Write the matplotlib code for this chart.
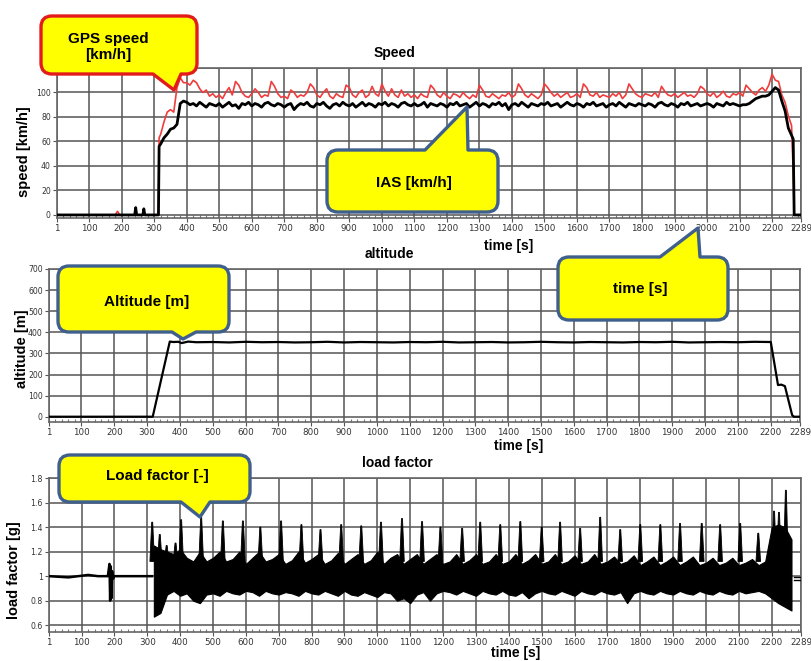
import numpy as np
import matplotlib
matplotlib.use("Agg")
import matplotlib.pyplot as plt
from matplotlib.path import Path
from matplotlib.patches import PathPatch
from matplotlib.ticker import MultipleLocator

W, H = 811, 661

# ---------------- data ----------------
# speed, sampled every 10 s from 320 s to 2260 s
t_speed = np.arange(320, 2270, 10)
ias = [58, 63, 66, 70, 71, 74, 91, 93,
       92, 90, 91, 89, 92, 90, 88, 91, 90, 89,
       91, 88, 90, 92, 89, 90, 87, 91, 90, 92,
       89, 91, 90, 88, 91, 92, 90, 89, 91, 90,
       88, 90, 91, 86, 89, 91, 90, 92, 89, 88,
       91, 90, 92, 89, 87, 90, 91, 89, 92, 90,
       89, 91, 88, 90, 92, 89, 91, 90, 88, 91,
       90, 92, 89, 91, 90, 88, 91, 92, 90, 89,
       91, 89, 90, 92, 88, 91, 90, 89, 91, 90,
       88, 91, 90, 92, 89, 90, 91, 88, 90, 92,
       89, 91, 90, 88, 91, 90, 92, 89, 91, 86,
       90, 91, 89, 92, 90, 88, 91, 90, 89, 91,
       90, 92, 89, 90, 91, 88, 90, 92, 90, 89,
       91, 90, 88, 91, 90, 92, 89, 90, 91, 88,
       90, 91, 89, 92, 90, 88, 91, 90, 89, 91,
       90, 89, 91, 90, 88, 91, 92, 90, 89, 91,
       90, 88, 91, 90, 92, 89, 90, 91, 89, 90,
       91, 90, 88, 91, 90, 89, 92, 90, 91, 90,
       89, 90, 90, 91, 93, 95, 96, 97, 97, 98,
       101, 104, 102, 93, 85, 71, 65]
gps = [66, 76, 84, 86, 84, 104, 112, 108,
       108, 106, 110, 108, 103, 100, 102, 97, 99, 96,
       98, 95, 100, 104, 98, 109, 106, 100, 97, 96,
       99, 103, 100, 96, 98, 97, 109, 105, 99, 96,
       97, 95, 102, 100, 96, 98, 97, 100, 107, 104,
       98, 96, 100, 103, 97, 95, 99, 97, 96, 106,
       104, 98, 96, 100, 102, 96, 98, 105, 99, 97,
       107, 101, 97, 103, 98, 96, 102, 97, 99, 96,
       98, 95, 99, 97, 96, 106, 103, 98, 96, 100,
       97, 95, 99, 98, 96, 100, 97, 95, 98, 96,
       106, 102, 97, 96, 99, 97, 95, 98, 97, 100,
       96, 98, 107, 103, 98, 96, 99, 97, 95, 98,
       107, 104, 100, 97, 99, 96, 98, 100, 96, 97,
       99, 96, 107, 104, 98, 97, 100, 96, 98, 97,
       96, 99, 97, 100, 95, 98, 107, 103, 99, 97,
       96, 99, 98, 97, 100, 96, 105, 101, 98, 97,
       99, 96, 98, 100, 97, 98, 96, 99, 105, 103,
       99, 97, 100, 96, 98, 101, 97, 96, 99, 98,
       100, 97, 106, 103, 100, 98, 102, 104, 101, 106,
       115, 110, 109, 98, 92, 81, 73]
ias_t0 = [1, 240, 243, 246, 265, 268, 271, 313, 315]
ias_v0 = [0, 0, 6, 0, 0, 5, 0, 0, 56]
ias_t1 = [2265, 2268, 2289]
ias_v1 = [62, 0, 0]
gps_t0 = [1, 180, 187, 194, 313, 315]
gps_v0 = [0, 0, 3, 0, 0, 63]
gps_t1 = [2265, 2268]
gps_v1 = [35, 0]

# altitude
alt_t = [1, 317, 369, 380, 395, 405, 425] + list(range(450, 2201, 50)) + \
        [2222, 2232, 2243, 2265, 2270, 2289]
alt_v = [0, 0, 356, 354, 355, 349, 356,
         353, 354, 352, 355, 353, 354, 352, 353, 355, 352, 354, 353,
         352, 354, 353, 355, 352, 353, 354, 352, 353, 355, 353, 352,
         354, 353, 352, 354, 353, 355, 352, 353, 354, 353, 355, 354,
         150, 152, 145, 8, 0, 0]

# load factor: ground part, then band envelope per 20 s, then spikes
lf_t0 = [1, 60, 120, 150, 180, 185, 187, 189, 191, 193, 196, 200, 250, 300, 314]
lf_v0 = [1.0, 0.99, 1.01, 1.0, 1.0, 1.1, 0.8, 1.08, 0.82, 1.04, 0.98, 1.0, 1.0, 1.0, 1.0]
lf_t = np.arange(320, 2280, 20)
lf_lo = [0.67, 0.70, 0.85, 0.88, 0.84, 0.86, 0.80, 0.78, 0.85, 0.86,
         0.84, 0.88, 0.86, 0.85, 0.88, 0.87, 0.84, 0.88, 0.86, 0.85,
         0.87, 0.86, 0.84, 0.88, 0.86, 0.85, 0.88, 0.86, 0.84, 0.88,
         0.85, 0.84, 0.87, 0.85, 0.83, 0.87, 0.86, 0.80, 0.82, 0.78,
         0.85, 0.87, 0.80, 0.86, 0.88, 0.87, 0.85, 0.88, 0.86, 0.84,
         0.88, 0.86, 0.85, 0.88, 0.85, 0.84, 0.87, 0.82, 0.86, 0.88,
         0.86, 0.85, 0.88, 0.86, 0.84, 0.88, 0.86, 0.85, 0.88, 0.86,
         0.85, 0.87, 0.78, 0.86, 0.88, 0.86, 0.85, 0.88, 0.86, 0.85,
         0.88, 0.86, 0.85, 0.88, 0.86, 0.85, 0.88, 0.86, 0.85, 0.88,
         0.86, 0.87, 0.88, 0.86, 0.82, 0.78, 0.75, 0.72]
lf_hi = [1.25, 1.22, 1.20, 1.18, 1.22, 1.15, 1.12, 1.20, 1.12, 1.15,
         1.20, 1.12, 1.14, 1.20, 1.10, 1.15, 1.20, 1.12, 1.14, 1.18,
         1.10, 1.13, 1.20, 1.11, 1.14, 1.18, 1.10, 1.13, 1.19, 1.10,
         1.14, 1.18, 1.10, 1.13, 1.20, 1.10, 1.15, 1.18, 1.10, 1.14,
         1.18, 1.10, 1.14, 1.18, 1.10, 1.12, 1.18, 1.10, 1.13, 1.18,
         1.10, 1.12, 1.18, 1.10, 1.12, 1.18, 1.10, 1.13, 1.18, 1.10,
         1.12, 1.18, 1.10, 1.12, 1.17, 1.10, 1.12, 1.18, 1.10, 1.12,
         1.16, 1.10, 1.12, 1.17, 1.09, 1.12, 1.16, 1.09, 1.12, 1.16,
         1.09, 1.12, 1.16, 1.09, 1.11, 1.15, 1.09, 1.11, 1.15, 1.09,
         1.11, 1.14, 1.09, 1.12, 1.40, 1.42, 1.40, 1.30]
spike_t = [315, 338, 359, 386, 403, 464, 530, 591, 644, 707, 769, 827, 890, 951,
           1011, 1075, 1136, 1192, 1258, 1313, 1374, 1435, 1500, 1556, 1617, 1678,
           1739, 1800, 1861, 1921, 1987, 2043, 2104, 2159, 2207, 2222, 2243]
spike_v = [1.44, 1.34, 1.25, 1.27, 1.46, 1.48, 1.45, 1.45, 1.40, 1.45, 1.42, 1.38,
           1.42, 1.41, 1.44, 1.47, 1.445, 1.40, 1.39, 1.44, 1.42, 1.445, 1.40, 1.44,
           1.39, 1.48, 1.38, 1.42, 1.42, 1.43, 1.43, 1.42, 1.43, 1.35, 1.53, 1.52, 1.70]
lf_t1 = [2268, 2289]
lf_v1 = [0.99, 0.99]
lf_v2 = [0.97, 0.97]

xticks = [1] + list(range(100, 2201, 100)) + [2289]

# ---------------- figure ----------------
fig = plt.figure(figsize=(W / 100, H / 100), dpi=100)
fig.patch.set_facecolor("white")


def axes_px(l, r, t, b):
    return fig.add_axes([l / W, 1 - b / H, (r - l) / W, (b - t) / H])


def style(ax, yt, ylabels, ylim):
    ax.set_xlim(1, 2289)
    ax.set_ylim(*ylim)
    ax.set_xticks(xticks)
    ax.set_xticklabels([str(x) for x in xticks])
    ax.set_yticks(yt)
    ax.set_yticklabels(ylabels)
    ax.xaxis.set_minor_locator(MultipleLocator(20))
    ax.tick_params(axis="both", which="major", colors="#555555",
                   labelcolor="#333333", length=3, width=0.8, pad=2)
    ax.tick_params(axis="x", which="major", labelsize=6.3, pad=1.5)
    ax.tick_params(axis="y", which="major", labelsize=5.6, pad=1.5)
    ax.tick_params(axis="x", which="minor", direction="in", length=2.5,
                   width=0.8, colors="#777777")
    ax.set_axisbelow(True)
    ax.grid(True, which="major", color="#555555", lw=1.1)
    for s in ax.spines.values():
        s.set_color("#666666")
        s.set_linewidth(1.2)


# speed
ax1 = axes_px(57, 801, 68, 218)
ax1.plot(gps_t0 + list(t_speed) + gps_t1, gps_v0 + gps + gps_v1,
         color="#f03c3c", lw=1.2, zorder=3)
ax1.plot(ias_t0 + list(t_speed) + ias_t1, ias_v0 + ias + ias_v1,
         color="black", lw=2.0, zorder=4)
style(ax1, [0, 20, 40, 60, 80, 100, 120], ["0", "20", "40", "60", "80", "100", ""],
      (-2.5, 120))

# altitude
ax2 = axes_px(49, 800, 269, 422)
ax2.plot(alt_t, alt_v, color="black", lw=1.6, zorder=3)
style(ax2, list(range(0, 701, 100)), [str(v) for v in range(0, 701, 100)], (-25, 700))

# load factor
ax3 = axes_px(49, 801, 478, 632)
ax3.plot(lf_t0, lf_v0, color="black", lw=1.8, zorder=3)
ax3.fill_between(lf_t, lf_lo, lf_hi, color="black", lw=0.8, zorder=3)
spike_w = 7  # half width of a spike at its base, in seconds
for t, v in zip(spike_t, spike_v):
    ax3.fill([t - spike_w, t - 1.5, t + 1.5, t + spike_w], [1.12, v, v, 1.12],
             color="black", lw=0.6, zorder=3)
ax3.plot(lf_t1, lf_v1, color="black", lw=1.0, zorder=3)
ax3.plot(lf_t1, lf_v2, color="black", lw=1.0, zorder=3)
style(ax3, [0.6, 0.8, 1.0, 1.2, 1.4, 1.6, 1.8],
      ["0.6", "0.8", "1", "1.2", "1.4", "1.6", "1.8"], (0.545, 1.8))

# titles and axis labels (figure pixels)
bold = dict(family="Liberation Sans", weight="bold", color="black")


def ftext(x, y, s, size, **kw):
    fig.text(x / W, 1 - y / H, s, fontsize=size, ha="center", va="center", **bold, **kw)


ftext(395, 53, "Speed", 10)
ftext(389, 254, "altitude", 10)
ftext(397, 463, "load factor", 10)
ftext(509, 246, "time [s]", 10)
ftext(519, 446, "time [s]", 10)
ftext(516, 653, "time [s]", 10)
ftext(24, 152, "speed [km/h]", 10.5, rotation=90)
ftext(22, 349, "altitude [m]", 10.5, rotation=90)
ftext(14, 570, "load factor [g]", 10.5, rotation=90)


# callout bubbles
def bubble(x0, y0, x1, y1, side, a, b, tip, edge, r=11):
    v = [(x0 + r, y0)]
    c = [Path.MOVETO]
    if side == "top":
        v += [(a, y0), tip, (b, y0)]
        c += [Path.LINETO] * 3
    v += [(x1 - r, y0), (x1, y0), (x1, y0 + r), (x1, y1 - r), (x1, y1), (x1 - r, y1)]
    c += [Path.LINETO, Path.CURVE3, Path.CURVE3, Path.LINETO, Path.CURVE3, Path.CURVE3]
    if side == "bottom":
        v += [(b, y1), tip, (a, y1)]
        c += [Path.LINETO] * 3
    v += [(x0 + r, y1), (x0, y1), (x0, y1 - r), (x0, y0 + r), (x0, y0), (x0 + r, y0),
          (x0 + r, y0)]
    c += [Path.LINETO, Path.CURVE3, Path.CURVE3, Path.LINETO, Path.CURVE3, Path.CURVE3,
          Path.CLOSEPOLY]
    v = [(x / W, 1 - y / H) for x, y in v]
    fig.add_artist(PathPatch(Path(v, c), transform=fig.transFigure, facecolor="#ffff00",
                             edgecolor=edge, lw=2.4, joinstyle="round", zorder=5))


blue = "#3f5f8c"
bubble(41, 16, 197, 74, "bottom", 153, 181, (174, 90), "#e31b1b")
bubble(327, 150, 498, 212, "top", 425, 468, (467, 107), blue)
bubble(558, 257, 728, 320, "top", 660, 700, (698, 228), blue)
bubble(58, 266, 229, 332, "bottom", 172, 196, (183, 339), blue)
bubble(59, 455, 250, 502, "bottom", 181, 210, (200, 517), blue)

btxt = dict(fontsize=11, zorder=6)
fig.text(108 / W, 1 - 47 / H, "GPS speed\n[km/h]", ha="center", va="center",
         linespacing=1.25, **bold, **btxt)
fig.text(414 / W, 1 - 183 / H, "IAS [km/h]", ha="center", va="center", **bold, **btxt)
fig.text(640 / W, 1 - 289 / H, "time [s]", ha="center", va="center", **bold, **btxt)
fig.text(147 / W, 1 - 302 / H, "Altitude [m]", ha="center", va="center", **bold, **btxt)
fig.text(157 / W, 1 - 476 / H, "Load factor [-]", ha="center", va="center", **bold, **btxt)

fig.savefig("out.png", dpi=100)
